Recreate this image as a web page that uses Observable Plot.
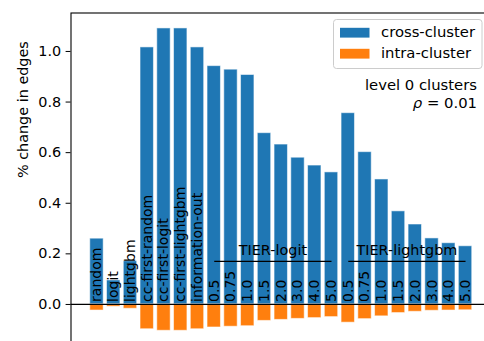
<!DOCTYPE html>
<html>
<head>
<meta charset="utf-8">
<script src="https://cdn.jsdelivr.net/npm/d3@7"></script>
<script src="https://cdn.jsdelivr.net/npm/@observablehq/plot@0.6"></script>
<style>
  html, body { margin: 0; padding: 0; background: #fff; }
  #chart { position: relative; width: 484px; height: 341px; overflow: hidden; }
  #chart svg { display: block; max-width: none !important; }
</style>
</head>
<body>
<div id="chart"></div>
<script>
// Methods compared: plain baselines, then the TIER variants at each threshold.
const baselines = ["random", "logit", "lightgbm", "cc-first-random", "cc-first-logit", "cc-first-lightgbm", "information-out"];
const tierGroups = ["TIER-logit", "TIER-lightgbm"];
const tierThresholds = ["0.5", "0.75", "1.0", "1.5", "2.0", "3.0", "4.0", "5.0"];

// % change in edges, one value per bar (baselines, TIER-logit, TIER-lightgbm).
const crossCluster = [
  0.260, 0.095, 0.171, 1.016, 1.091, 1.091, 1.016,
  0.942, 0.928, 0.907, 0.677, 0.632, 0.580, 0.549, 0.522,
  0.756, 0.602, 0.494, 0.368, 0.316, 0.261, 0.242, 0.230
];
const intraCluster = [
  -0.024, -0.009, -0.017, -0.098, -0.104, -0.104, -0.098,
  -0.091, -0.088, -0.086, -0.065, -0.061, -0.057, -0.054, -0.050,
  -0.072, -0.058, -0.047, -0.034, -0.029, -0.025, -0.024, -0.023
];

const seriesNames = ["cross-cluster", "intra-cluster"];
const seriesColors = ["#1f77b4", "#ff7f0e"];
const yTicks = [0, 0.2, 0.4, 0.6, 0.8, 1.0];
const yLabel = "% change in edges";
const annotationTitle = "level 0 clusters";
const annotationSymbol = "ρ";
const annotationValue = " = 0.01";

// One row per bar; TIER bars get a unique key since thresholds repeat.
const rows = [
  ...baselines.map(m => ({key: m, label: m})),
  ...tierGroups.flatMap(g => tierThresholds.map(t => ({key: `${g} ${t}`, label: t})))
].map((d, i) => ({...d, cross: crossCluster[i], intra: intraCluster[i]}));

// Bracket lines under each TIER group name.
const groups = tierGroups.map(g => ({
  name: g,
  first: `${g} ${tierThresholds[0]}`,
  last: `${g} ${tierThresholds[tierThresholds.length - 1]}`,
  mid: `${g} ${tierThresholds[tierThresholds.length / 2 - 1]}`
}));

const FONT = "DejaVu Sans, sans-serif";
const FS = 14.4;
const W = 500, H = 350;
const M = {left: 70.5, top: 12.5, right: 9, bottom: 4.3};
const padIn = 0.2, padOut = 1.15;
const step = (W - M.left - M.right) / (rows.length - padIn + 2 * padOut);

const plot = Plot.plot({
  width: W,
  height: H,
  marginLeft: M.left,
  marginTop: M.top,
  marginRight: M.right,
  marginBottom: M.bottom,
  style: {fontFamily: FONT, fontSize: `${FS}px`, color: "black", background: "white", maxWidth: "none"},
  x: {type: "band", domain: rows.map(d => d.key), paddingInner: padIn, paddingOuter: padOut, round: false, axis: null},
  y: {domain: [-0.165, 1.152], ticks: yTicks, tickFormat: d3.format(".1f"), tickSize: 4.9, tickPadding: 4.9, label: null},
  marks: [
    Plot.barY(rows, {x: "key", y: "cross", fill: seriesColors[0], stroke: "white", strokeOpacity: 0.55, strokeWidth: 1}),
    Plot.barY(rows, {x: "key", y: "intra", fill: seriesColors[1], stroke: "white", strokeOpacity: 0.55, strokeWidth: 1}),
    Plot.ruleY([0], {stroke: "black", strokeWidth: 1.2}),
    Plot.text(rows, {x: "key", y: 0.01, text: "label", rotate: -90, textAnchor: "start", lineAnchor: "middle", fontSize: 14, fill: "black"}),
    Plot.link(groups, {x1: "first", x2: "last", y1: 0.17, y2: 0.17, stroke: "black", strokeWidth: 1.2}),
    Plot.text(groups, {x: "mid", y: 0.197, text: "name", dx: step / 2, lineAnchor: "bottom", fontSize: FS, fill: "black"}),
    Plot.text([yLabel], {frameAnchor: "left", rotate: -90, dx: -48, dy: -1.5, lineAnchor: "middle", fontSize: FS, fill: "black"}),
    Plot.frame({stroke: "black", strokeWidth: 1.1})
  ]
});

// Legend box inside the upper-right corner of the axes.
const svg = d3.select(plot);
const legend = svg.append("g").attr("font-family", FONT).attr("font-size", 14.8).attr("text-anchor", "start");
legend.append("rect")
  .attr("x", 333.5).attr("y", 19.5).attr("width", 148.5).attr("height", 49).attr("rx", 3)
  .attr("fill", "white").attr("fill-opacity", 0.8).attr("stroke", "#cccccc");
seriesNames.forEach((name, i) => {
  const y = 27.8 + i * 21;
  legend.append("rect").attr("x", 340).attr("y", y).attr("width", 29.5).attr("height", 9.8).attr("fill", seriesColors[i]);
  legend.append("text").attr("x", 381).attr("y", y + 9.6).attr("fill", "black").text(name);
});

// Cluster level / density annotation, right-aligned under the legend.
const note = svg.append("g").attr("font-family", FONT).attr("font-size", 14.8).attr("text-anchor", "end").attr("fill", "black");
note.append("text").attr("x", 477).attr("y", 90).text(annotationTitle);
const rho = note.append("text").attr("x", 477).attr("y", 108);
rho.append("tspan").attr("font-style", "italic").text(annotationSymbol);
rho.append("tspan").text(annotationValue);

document.getElementById("chart").appendChild(plot);
</script>
</body>
</html>
